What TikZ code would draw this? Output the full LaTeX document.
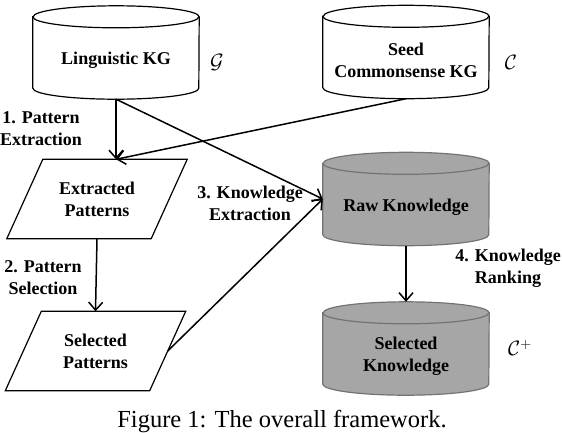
\documentclass[tikz,border=0pt]{standalone}
\usepackage{fontspec}
\setmainfont{Liberation Serif}
\usetikzlibrary{positioning, shapes.geometric, arrows.meta}

% cylinder outline round a (rectangular) node #2, drawn with options #1
\newcommand{\dbdraw}[2][]{%
  \draw[line width=1.2pt, #1] ([yshift=-11pt]#2.north west) -- ([yshift=11pt]#2.south west)
    arc[start angle=180, end angle=360, x radius=83pt, y radius=11pt]
    -- ([yshift=-11pt]#2.north east)
    arc[start angle=0, end angle=180, x radius=83pt, y radius=11pt] -- cycle;
  \draw[line width=1.2pt, #1, fill=none] ([yshift=-11pt]#2.north west)
    arc[start angle=180, end angle=360, x radius=83pt, y radius=11pt];}
% slanted outline round a (rectangular) node #1
\newcommand{\patdraw}[1]{%
  \draw[line width=1.2pt] ([xshift=36pt]#1.north west) -- (#1.north east)
    -- ([xshift=-36pt]#1.south east) -- (#1.south west) -- cycle;}

\begin{document}
\begin{tikzpicture}[
  x=1pt, y=-1pt,
  font=\bfseries\fontsize{18}{22}\selectfont,
  db/.style={minimum width=166pt, minimum height=93pt, inner sep=0pt},
  gray db/.style={draw=black!55, fill=black!35},
  pat/.style={align=center, minimum width=180pt, minimum height=79pt, inner sep=0pt},
  txt/.style={align=center, inner sep=0pt},
  sym/.style={font=\fontsize{20}{24}\selectfont, inner sep=0pt},
  flow/.style={line width=1.5pt, -{Straight Barb[length=8pt, width=14pt, line width=1.5pt]}},
]
\useasboundingbox (0,0) rectangle (562,432);

% knowledge graphs
\node[db] (ling) at (116,52.5) {};
\dbdraw{ling}
\node[txt] (lingtxt) at ([yshift=-8pt]ling.center) {Linguistic KG};
\node[sym] (G) at (217,62) {$\mathcal{G}$};

\node[db] (seed) at (406,52) {};
\dbdraw{seed}
\node[txt] (seedtxt) at ([yshift=-8pt]seed.center) {Seed\\Commonsense KG};
\node[sym] (C) at (511,62) {$\mathcal{C}$};

\node[db] (raw) at (406,199) {};
\dbdraw[gray db]{raw}
\node[txt] (rawtxt) at ([yshift=-8pt]raw.center) {Raw Knowledge};

\node[db] (selk) at (406,348.5) {};
\dbdraw[gray db]{selk}
\node[txt] (selktxt) at ([yshift=-8pt]selk.center) {Selected\\Knowledge};
\node[sym] (Cplus) at (520,348) {$\mathcal{C}^{+}$};

% patterns
\node[pat] (ext) at (97,199) {Extracted\\Patterns};
\patdraw{ext}
\node[pat] (sel) at (95.5,351) {Selected\\Patterns};
\patdraw{sel}

% steps
\node[txt] (step1) at (41,129) {1. Pattern\\Extraction};
\node[txt] (step2) at (43,278) {2. Pattern\\Selection};
\node[txt] (step3) at (250,203) {3. Knowledge\\Extraction};
\node[txt] (step4) at (508,268) {4. Knowledge\\Ranking};

\draw[flow] (ling.south) -- (ling.south |- ext.north);
\draw[flow] (seed.south) -- (ling.south |- ext.north);
\draw[flow] (ling.south) -- (raw.west);
\draw[flow] (ext.south) -- (sel.north);
\draw[flow] ([xshift=-18pt]sel.east) -- (raw.west);
\draw[flow] (raw.south) -- (selk.north);

\node[anchor=base, inner sep=0pt, font=\fontsize{24.5}{30}\selectfont] (caption)
  at (282,427) {Figure 1: The overall framework.};
\end{tikzpicture}
\end{document}
